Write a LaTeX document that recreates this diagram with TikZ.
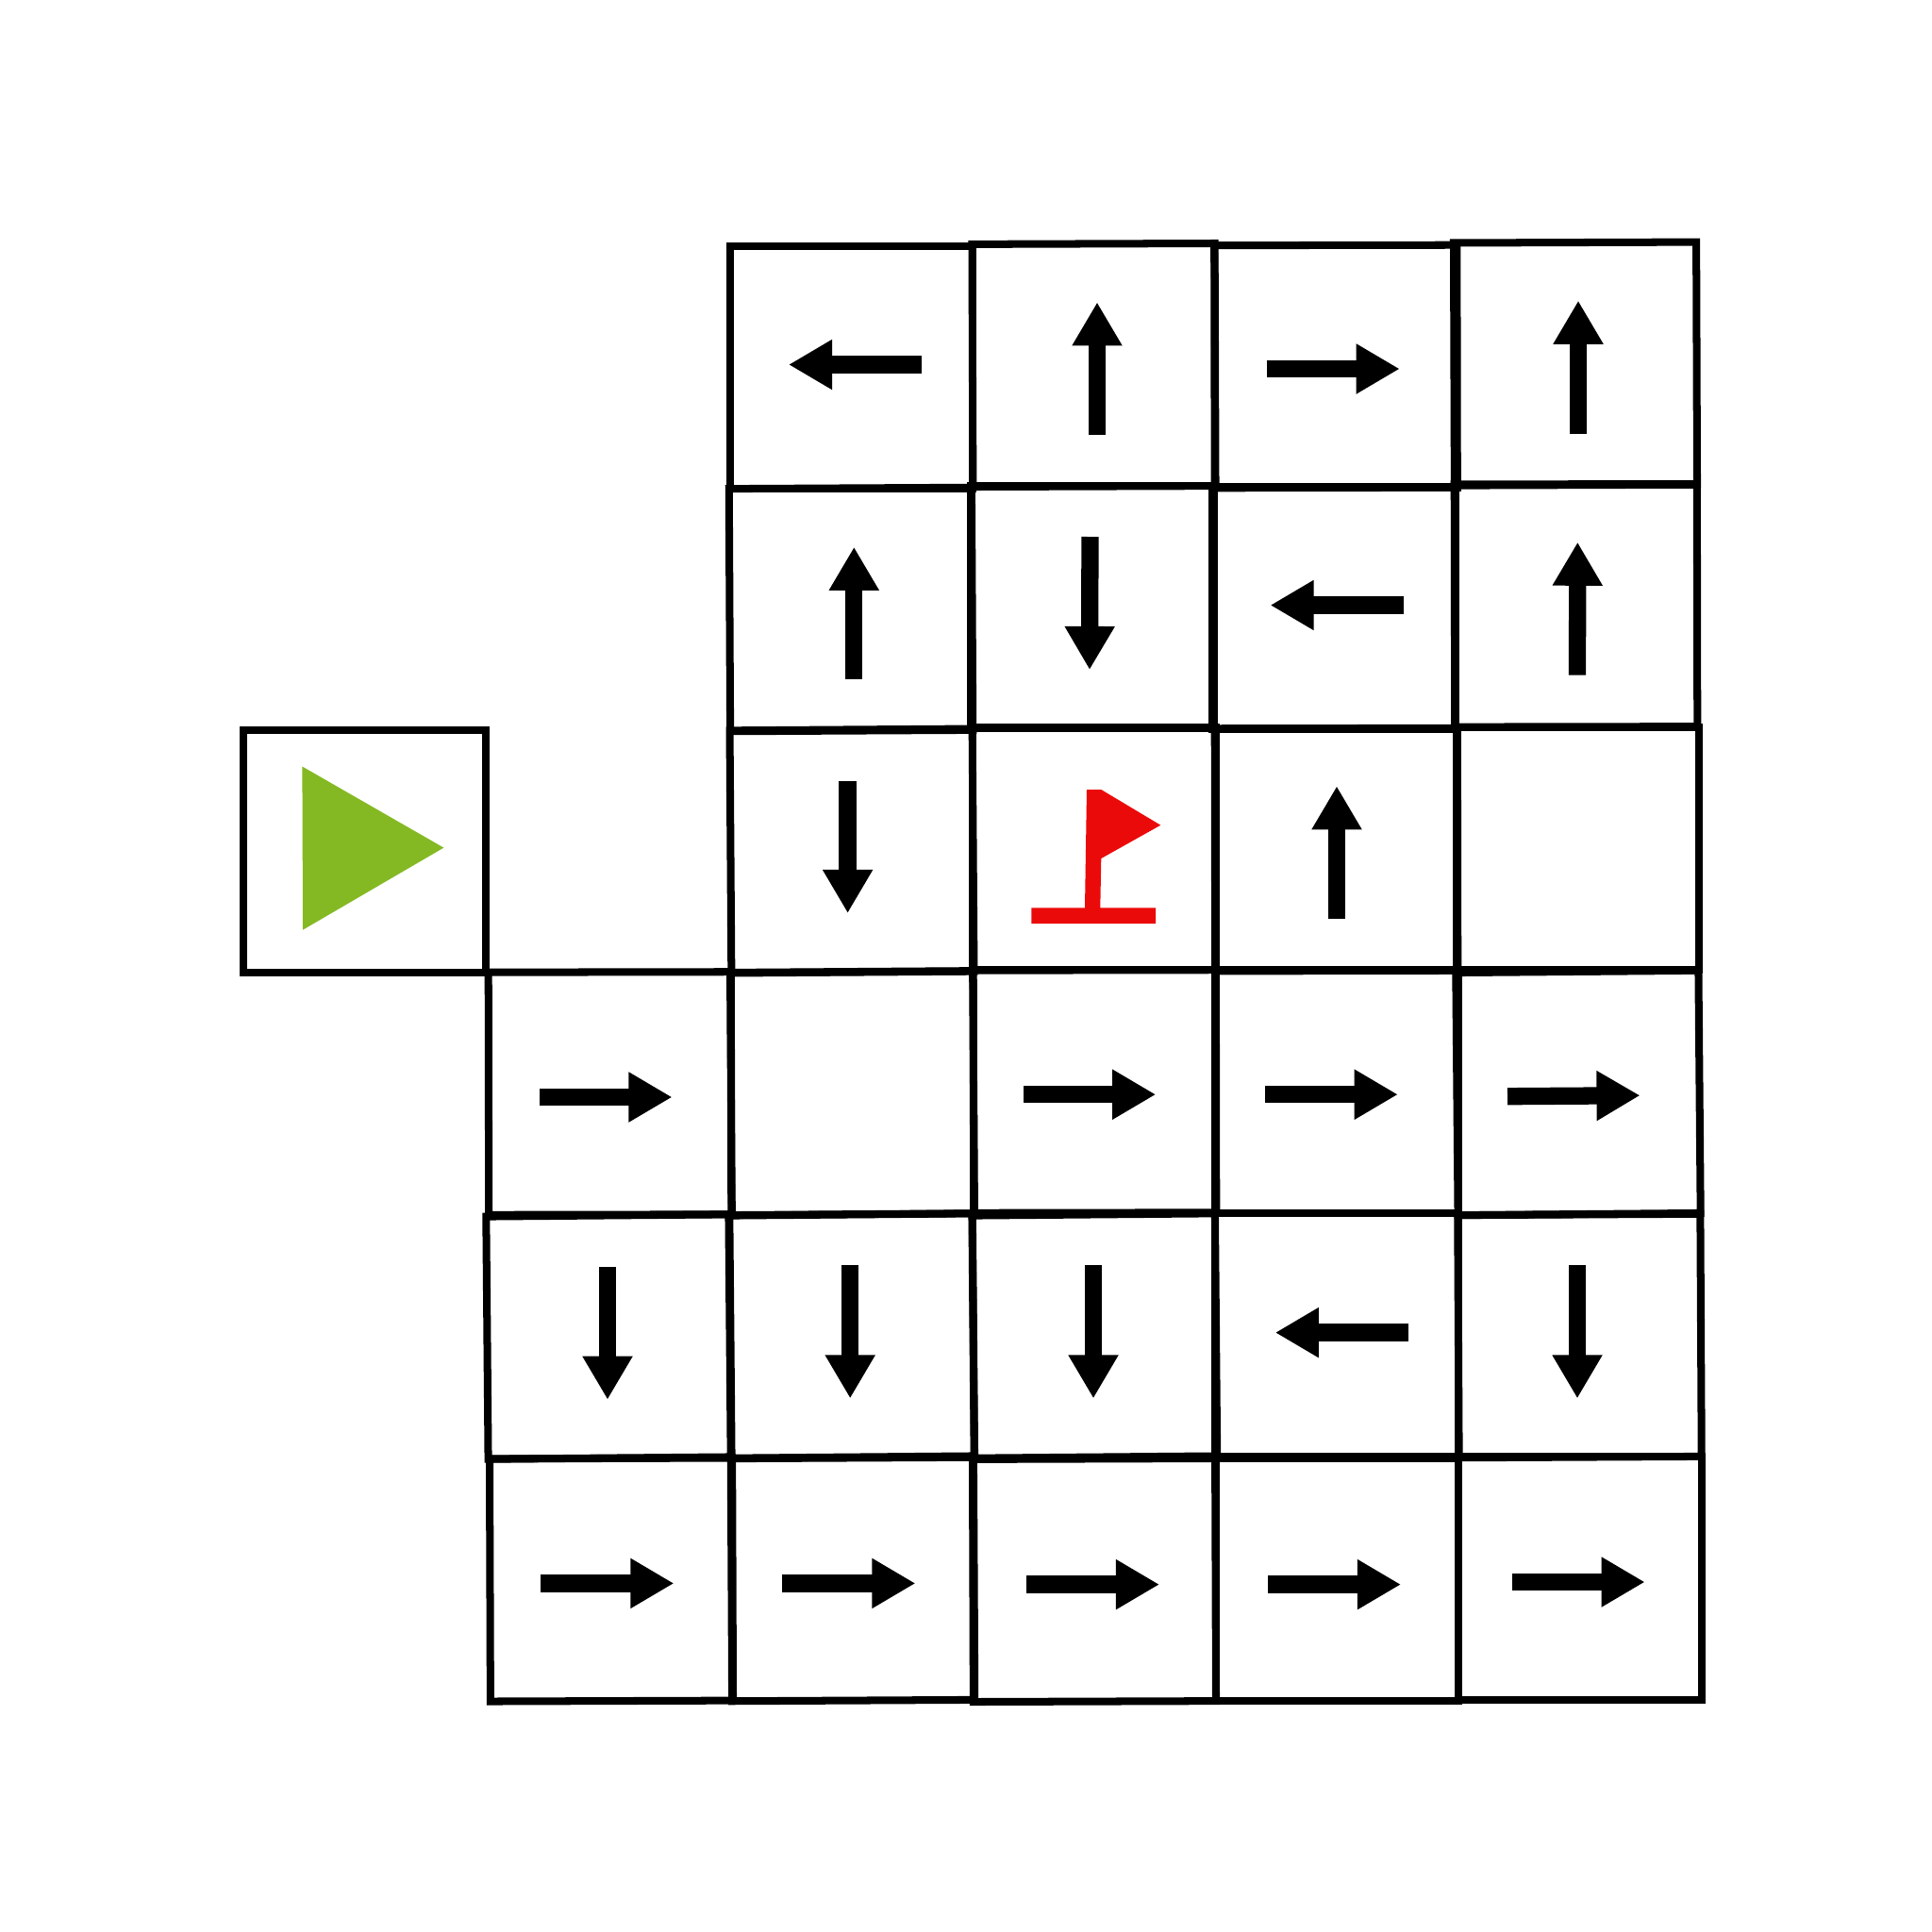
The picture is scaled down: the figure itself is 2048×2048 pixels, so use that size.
\documentclass[tikz,border=0pt]{standalone}
\usepackage{tikz}
\usetikzlibrary{arrows.meta,positioning}
\definecolor{startgreen}{HTML}{84B924}
\definecolor{flagred}{HTML}{EB0A0A}

\begin{document}
\begin{tikzpicture}[x=.01cm,y=-.01cm,
cell/.style={draw,line width=2.28pt,minimum size=73.12pt,inner sep=0pt},
move/.style={line width=5.2pt,-{Triangle[length=13.1pt,width=14.2pt]}}]
\useasboundingbox (0,0) rectangle (2048,2048);
\node[cell] (S) at (386.5,902.5) {};
\node[cell] (A11) at (902.5,389.5) {};
\node[cell,rotate=.2] (A12) at (1159.5,387) {};
\node[cell,rotate=.1] (A13) at (1416,388.5) {};
\node[cell,rotate=.2] (A14) at (1670,385.6) {};
\node[cell,rotate=.3] (A21) at (902,646) {};
\node[cell] (A22) at (1158,643.5) {};
\node[cell] (A23) at (1414,644.5) {};
\node[cell,rotate=.1] (A24) at (1670.5,641.8) {};
\node[cell,rotate=.4] (A32) at (903,902) {};
\node[cell] (A33) at (1160,899.3) {};
\node[cell,rotate=.1] (A34) at (1416.5,900.6) {};
\node[cell] (A35) at (1672.5,899.2) {};
\node[cell,rotate=.1] (A41) at (646.5,1159) {};
\node[cell,rotate=.4] (A42) at (903.5,1158.6) {};
\node[cell,rotate=.1] (A43) at (1160.5,1157) {};
\node[cell] (A44) at (1417,1157) {};
\node[cell,rotate=.5] (A45) at (1673,1158.5) {};
\node[cell,rotate=.5] (A51) at (645,1417) {};
\node[cell,rotate=.5] (A52) at (903,1416) {};
\node[cell,rotate=.5] (A53) at (1160.5,1416) {};
\node[cell] (A54) at (1417,1415) {};
\node[cell,rotate=.3] (A55) at (1674.5,1416) {};
\node[cell,rotate=.2] (A61) at (648,1674.5) {};
\node[cell,rotate=.3] (A62) at (904,1674) {};
\node[cell,rotate=.2] (A63) at (1160,1675) {};
\node[cell] (A64) at (1417.5,1674.5) {};
\node[cell] (A65) at (1675,1673) {};
% start and goal
\fill[startgreen] (320.4,812.5)--(470.4,898.6)--(321,985.7)--cycle;
\fill[flagred] (1152,837)--(1167.3,837)--(1230.3,874.7)--(1167.3,910)--(1166.3,962.3)--(1225,962.3)--(1225,979)--(1093.3,979)--(1093.3,962.3)--(1150,962.3)--cycle;
% arrows
\draw[move] (976.5,386.5)--(836,386.5);
\draw[move] (1163,461)--(1163,320.4);
\draw[move] (1342.7,391)--(1483.7,391);
\draw[move] (1673,459.7)--(1673,318.7);
\draw[move] (905.3,720.3)--(905.3,579.8);
\draw[move] (1155.5,569)--(1155,710);
\draw[move] (1487.6,641.5)--(1346.6,641.5);
\draw[move] (1672,715.7)--(1672.3,574.7);
\draw[move] (898.6,828)--(898.6,968);
\draw[move] (1417,974)--(1417,833.3);
\draw[move] (572,1163)--(712.5,1163);
\draw[move] (1085.4,1160.2)--(1225.2,1160.2);
\draw[move] (1341.4,1160.2)--(1481.8,1160.2);
\draw[move] (1598,1162.2)--(1738.5,1161.2);
\draw[move] (644,1342.7)--(644,1483.7);
\draw[move] (901.2,1341.4)--(901.2,1482.4);
\draw[move] (1159,1341.4)--(1159,1482.4);
\draw[move] (1493,1412.6)--(1351.8,1412.6);
\draw[move] (1672,1341.4)--(1672,1482.4);
\draw[move] (573.4,1678.4)--(714.4,1678.4);
\draw[move] (829.4,1678.4)--(970.4,1678.4);
\draw[move] (1088,1679.6)--(1229,1679.6);
\draw[move] (1344,1679.6)--(1485,1679.6);
\draw[move] (1602.6,1677)--(1743.6,1677);
\end{tikzpicture}
\end{document}
